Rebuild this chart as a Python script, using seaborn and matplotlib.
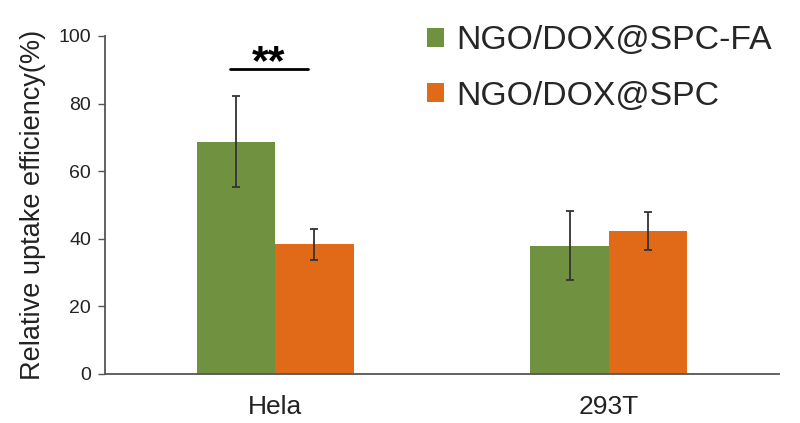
import matplotlib
matplotlib.use("Agg")
import matplotlib.pyplot as plt
import seaborn as sns
import pandas as pd
import numpy as np

cells = ["Hela", "293T"]
groups = ["NGO/DOX@SPC-FA", "NGO/DOX@SPC"]
means_fa = [68.7, 38.0]
errs_fa = [13.4, 10.2]
means_spc = [38.3, 42.3]
errs_spc = [4.6, 5.7]
colors = ["#6F9140", "#E06A17"]

sns.set_theme(style="white")
plt.rcParams["font.family"] = ["Liberation Sans", "DejaVu Sans"]

df = pd.DataFrame({
    "cell": cells * 2,
    "group": [groups[0]] * 2 + [groups[1]] * 2,
    "value": means_fa + means_spc,
    "err": errs_fa + errs_spc,
})

fig = plt.figure(figsize=(8, 4.23), dpi=100)
ax = fig.add_axes([0.131, 0.116, 0.843, 0.799])

sns.barplot(data=df, x="cell", y="value", hue="group", order=cells,
            hue_order=groups, palette=colors, width=0.47, gap=0,
            errorbar=None, ax=ax, saturation=1, linewidth=0, legend=True)

# error bars at bar centers
bars = [p for p in ax.patches]
errs = errs_fa + errs_spc
vals = means_fa + means_spc
for p, v, e in zip(bars, vals, errs):
    cx = p.get_x() + p.get_width() / 2
    ax.errorbar(cx, v, yerr=e, fmt="none", ecolor="#333333",
                elinewidth=1.3, capsize=3, capthick=1.3)

ax.set_xlim(-0.51, 1.51)
ax.set_ylim(0, 100)
ax.set_yticks([0, 20, 40, 60, 80, 100])
ax.set_xlabel("")
ax.set_ylabel("Relative uptake efficiency(%)", fontsize=19.5, color="#222222")
ax.yaxis.set_label_coords(-0.087, 0.5)
ax.tick_params(axis="y", which="both", left=True, length=5, width=1,
               color="#555555", labelsize=14, pad=5, labelcolor="#222222")
ax.tick_params(axis="x", bottom=False, labelsize=19, pad=9, labelcolor="#222222")
for s in ["top", "right"]:
    ax.spines[s].set_visible(False)
for s in ["left", "bottom"]:
    ax.spines[s].set_color("#555555")
    ax.spines[s].set_linewidth(1.3)

# significance annotation
ax.plot([-0.135, 0.10], [90.1, 90.1], color="black", lw=2)
ax.text(-0.02, 88.6, "**", ha="center", va="baseline", fontsize=31,
        fontweight="bold", color="black")

handles, labels = ax.get_legend_handles_labels()
ax.get_legend().remove()
fig.legend(handles, labels, loc="upper left",
           bbox_to_anchor=(0.534, 0.94), frameon=False, fontsize=24.3,
           handlelength=0.5, handleheight=0.5, handletextpad=0.35,
           labelspacing=0.72, borderpad=0, borderaxespad=0)

fig.savefig("out.png", dpi=100)
